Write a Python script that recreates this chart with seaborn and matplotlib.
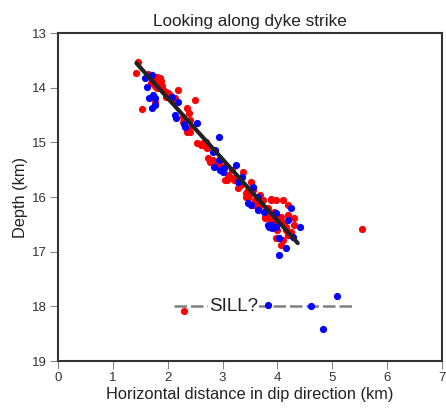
import matplotlib
matplotlib.use("Agg")
import matplotlib.pyplot as plt
import seaborn as sns
import pandas as pd

# Red events: horizontal distance (km), depth (km)
red_x = [1.46, 1.43, 1.68, 1.74, 1.79, 1.83, 1.86, 1.90, 1.77, 1.72, 1.81, 1.86, 2.01, 2.19, 2.50,
         1.54, 1.77, 2.05, 1.96, 2.36, 2.38, 2.27, 2.27, 2.41, 2.41, 2.38, 2.36, 2.54, 2.60, 2.65,
         2.69, 2.74, 2.82, 2.82, 2.87, 2.93, 3.02, 3.18, 3.09, 3.18, 2.78, 2.91, 3.38, 3.05, 3.20,
         3.51, 3.46, 3.56, 3.42, 3.56, 3.66, 3.88, 3.97, 3.78, 3.97, 3.42, 3.47, 3.60, 3.88, 4.10,
         4.20, 3.82, 3.93, 3.78, 3.88, 4.06, 4.19, 4.30, 4.11, 4.30, 3.97, 4.10, 4.19, 4.06, 5.54,
         2.29, 1.65, 1.92, 2.08, 2.14, 1.97, 3.33, 3.29, 3.69, 3.73, 4.00, 4.15, 4.24,
         1.80, 1.88, 1.70, 1.84, 2.62, 2.72, 2.70, 3.50, 3.60, 3.70, 4.15, 4.05, 3.85, 2.95, 3.10]
red_d = [13.53, 13.73, 13.79, 13.82, 13.86, 13.90, 13.93, 13.97, 13.97, 13.86, 14.01, 13.82, 14.10, 14.04, 14.22,
         14.39, 14.26, 14.13, 14.08, 14.37, 14.46, 14.63, 14.54, 14.59, 14.81, 14.74, 14.81, 15.01, 15.05, 15.01,
         15.08, 15.29, 15.32, 15.36, 15.41, 15.38, 15.45, 15.50, 15.69, 15.65, 15.36, 15.41, 15.54, 15.69, 15.69,
         15.72, 15.87, 15.87, 16.00, 16.14, 16.09, 16.05, 16.05, 16.36, 16.42, 15.93, 16.02, 16.14, 16.03, 16.05,
         16.14, 16.20, 16.27, 16.38, 16.42, 16.36, 16.33, 16.38, 16.47, 16.51, 16.75, 16.78, 16.69, 16.88, 16.58,
         18.08, 13.75, 14.04, 14.22, 14.19, 14.17, 15.78, 15.83, 15.96, 16.05, 16.60, 16.60, 16.64,
         13.80, 13.88, 13.92, 13.96, 15.03, 15.10, 15.00, 15.95, 16.05, 16.15, 16.55, 16.45, 16.30, 15.45, 15.60]

# Blue events
blue_x = [1.59, 1.63, 1.66, 1.77, 1.77, 1.72, 1.74, 2.08, 2.18, 2.14, 2.16, 2.30, 2.32, 2.54, 2.93,
          2.82, 2.87, 2.94, 2.85, 3.00, 3.29, 2.96, 3.02, 3.24, 3.36, 3.55, 3.47, 3.64, 3.75, 3.84,
          3.91, 3.51, 3.64, 4.24, 3.97, 4.20, 3.82, 3.91, 3.97, 4.42, 4.02, 4.28, 4.15, 4.02, 3.82,
          4.61, 5.08, 4.84, 1.72]
blue_d = [13.82, 13.99, 14.19, 14.19, 14.32, 14.37, 14.13, 14.17, 14.26, 14.50, 14.55, 14.66, 14.72, 14.65, 14.90,
          15.18, 15.14, 15.32, 15.45, 15.54, 15.72, 15.50, 15.47, 15.41, 15.63, 15.82, 16.11, 16.24, 16.27, 16.55,
          16.56, 16.14, 16.00, 16.20, 16.29, 16.42, 16.51, 16.51, 16.55, 16.55, 16.75, 16.73, 16.93, 17.06, 17.97,
          18.00, 17.81, 18.41, 13.77]

# Dyke fit line and sill line
fit_x = [1.43, 4.37]
fit_d = [13.55, 16.84]
sill_x = [2.12, 5.41]
sill_d = [18.0, 18.0]

sns.set_style("white")
plt.rcParams["font.family"] = ["Liberation Sans", "DejaVu Sans"]

fig = plt.figure(figsize=(4.46, 4.09), dpi=100)
ax = fig.add_axes([0.130, 0.117, 0.861, 0.802])

red_df = pd.DataFrame({"x": red_x, "d": red_d})
blue_df = pd.DataFrame({"x": blue_x, "d": blue_d})
sns.scatterplot(data=red_df, x="x", y="d", color="#ff0000", s=27, linewidth=0, ax=ax, zorder=2)
sns.scatterplot(data=blue_df, x="x", y="d", color="#0000ff", s=27, linewidth=0, ax=ax, zorder=3)

fit_df = pd.DataFrame({"x": fit_x, "d": fit_d})
sns.lineplot(data=fit_df, x="x", y="d", color="#222222", linewidth=3.0, ax=ax, zorder=4,
             sort=False)
sill_df = pd.DataFrame({"x": sill_x, "d": sill_d})
sns.lineplot(data=sill_df, x="x", y="d", color="#808080", linewidth=1.8, ax=ax, zorder=1,
             sort=False, linestyle=(0, (5, 1.6)))
ax.text(3.2, 18.0, "SILL?", fontsize=13.5, ha="center", va="center", color="#222222", zorder=5,
        bbox=dict(facecolor="white", edgecolor="none", pad=1.0))

ax.set_xlim(0, 7)
ax.set_ylim(19, 13)
ax.set_xticks(range(0, 8))
ax.set_yticks(range(13, 20))
ax.set_xlabel("Horizontal distance in dip direction (km)", fontsize=11.8, color="#222222", labelpad=2)
ax.set_ylabel("Depth (km)", fontsize=11.8, color="#222222", labelpad=3)
ax.set_title("Looking along dyke strike", fontsize=12.3, color="#222222", pad=5)
ax.tick_params(axis="both", direction="out", length=6, width=0.8, color="#888888",
               labelsize=9.5, labelcolor="#333333", bottom=True, left=True, pad=2)
for sp in ax.spines.values():
    sp.set_color("#333333")
    sp.set_linewidth(1.5)

fig.savefig("out.png", dpi=100)
